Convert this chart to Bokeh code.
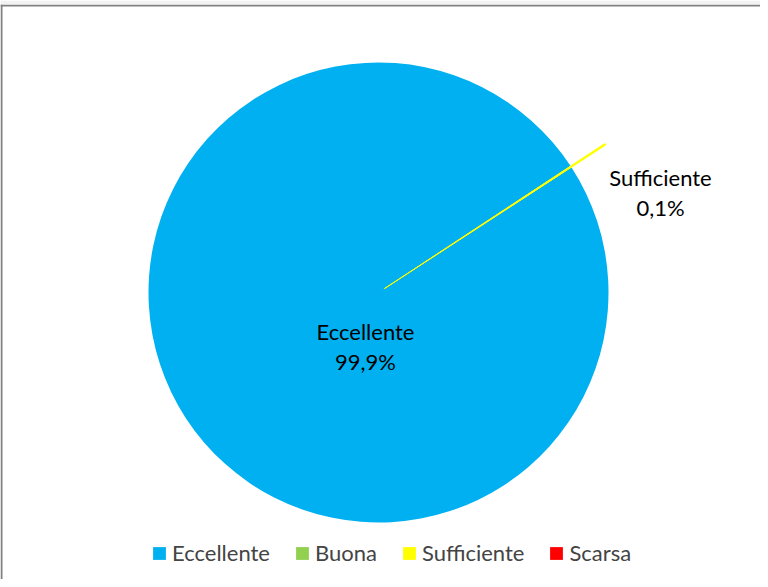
import math
from bokeh.plotting import figure
from bokeh.models import ColumnDataSource, Range1d, Span, Legend, LegendItem
from bokeh.core.properties import value
from bokeh.embed import file_html
from bokeh.resources import INLINE

# --- data ---
categories = ["Eccellente", "Buona", "Sufficiente", "Scarsa"]
shares = [99.9, 0.0, 0.1, 0.0]
colors = ["#00B0F0", "#92D050", "#FFFF00", "#FF0000"]
first_slice_angle = 57.0  # degrees clockwise from 12 o'clock

# --- layout constants ---
W, H = 760, 579
cx, cy = 386, -300          # pie centre (data units == pixels)
R = 230
FONT = "Lato"

total = sum(shares)
starts, ends, radii = [], [], []
cum = 0.0
for v in shares:
    a0 = math.radians(90 - first_slice_angle - cum / total * 360)
    a1 = math.radians(90 - first_slice_angle - (cum + v) / total * 360)
    starts.append(a0)
    ends.append(a1)
    radii.append(R if v > 0 else 0)
    cum += v

src = ColumnDataSource(dict(cat=categories, share=shares, color=colors,
                            start=starts, end=ends, r=radii,
                            x=[cx] * 4, y=[cy] * 4))

p = figure(width=W, height=H, output_backend="svg", toolbar_location=None,
           x_range=Range1d(8, 768), y_range=Range1d(-587, -12),
           min_border_top=4, min_border_left=0, min_border_right=0, min_border_bottom=0)
p.axis.visible = False
p.grid.visible = False
p.outline_line_color = None
p.border_fill_color = "#F2F2F2"
p.background_fill_color = "#FFFFFF"

wedges = p.wedge(x="x", y="y", radius="r", start_angle="start", end_angle="end",
                 direction="clock", fill_color="color", line_color=None, source=src)

# thin slice drawn as its visible yellow stroke
small = ColumnDataSource(dict(x=[cx], y=[cy], start=[starts[2]], end=[ends[2]]))
p.annular_wedge(x="x", y="y", inner_radius=7, outer_radius=271,
                start_angle="start", end_angle="end", direction="clock",
                fill_color=colors[2], line_color=colors[2], line_width=1, source=small)

# frame (left + top edges)
p.add_layout(Span(location=9, dimension="height", line_color="#808080", line_width=2))
p.add_layout(Span(location=-13, dimension="width", line_color="#808080", line_width=2))

# data labels
def pct(v):
    return f"{v / total * 100:.1f}".replace(".", ",") + "%"

label_offsets = {"Eccellente": (-13, -39), "Sufficiente": (282, 115)}
for i, c in enumerate(categories):
    if c in label_offsets:
        dx, dy = label_offsets[c]
        p.text(x=[cx + dx, cx + dx], y=[cy + dy, cy + dy - 30],
               text=[c, pct(shares[i])], text_align="center", text_baseline="middle",
               text_font=value(FONT), text_font_size="22px", text_color="#000000")

legend = Legend(items=[LegendItem(label=c, renderers=[wedges], index=i)
                       for i, c in enumerate(categories)],
                orientation="horizontal",
                location=(151, 13), border_line_color=None,
                background_fill_alpha=0, glyph_width=16, glyph_height=16,
                label_standoff=5, spacing=24, padding=0, margin=0,
                label_text_font=FONT, label_text_font_size="22px")
p.add_layout(legend, "center")

open("out.html", "w").write(file_html(p, INLINE))
